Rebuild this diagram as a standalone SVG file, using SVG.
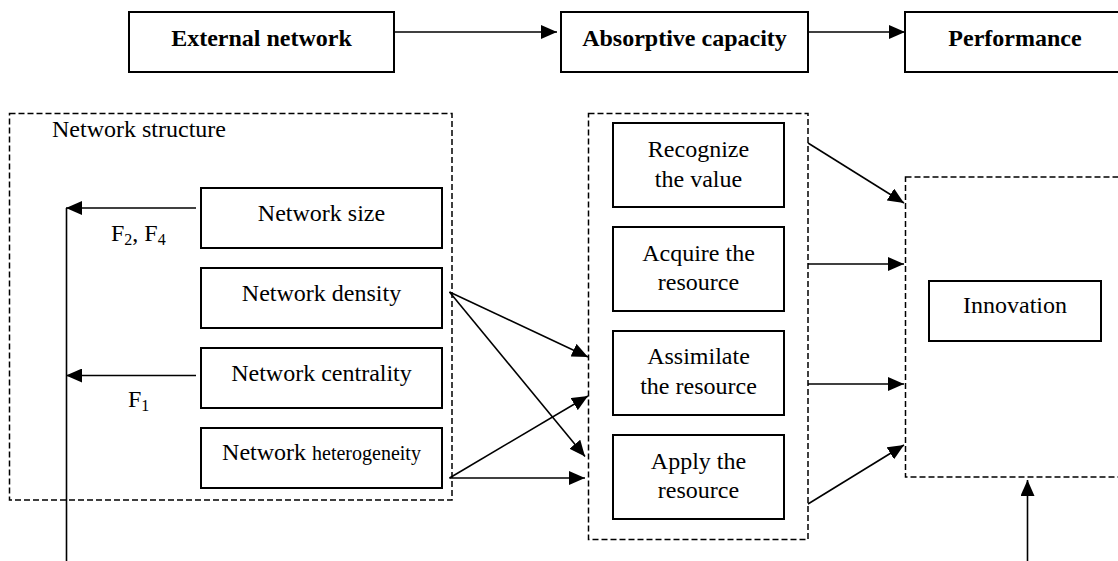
<svg xmlns="http://www.w3.org/2000/svg" width="1118" height="561" viewBox="0 0 1118 561">
<defs>
<marker id="ah" markerWidth="16" markerHeight="14" refX="16" refY="7" orient="auto" markerUnits="userSpaceOnUse">
<path d="M0,0 L16,7 L0,14 Z" fill="#000"/>
</marker>
<style>
.box{fill:#fff;stroke:#000;stroke-width:2}
.dash{fill:none;stroke:#000;stroke-width:1.5;stroke-dasharray:6 3}
.t{font-family:"Liberation Serif","Times New Roman",serif;font-size:24px;fill:#000}
.b{font-weight:bold}
.m{text-anchor:middle}
.c{fill:none;stroke:#000;stroke-width:1.6}
.a{marker-end:url(#ah)}
</style>
</defs>
<rect width="1118" height="561" fill="#fff"/>

<g id="external-network"><rect class="box" x="129" y="12" width="265" height="60"/><text class="t b m" x="261.5" y="46">External network</text></g>
<g id="absorptive-capacity"><rect class="box" x="561" y="12" width="247" height="60"/><text class="t b m" x="684.5" y="46">Absorptive capacity</text></g>
<g id="performance"><rect class="box" x="905" y="12" width="220" height="60"/><text class="t b m" x="1015" y="46">Performance</text></g>

<g id="network-structure"><rect class="dash" x="9.5" y="113.5" width="442.5" height="386.5"/><text class="t" x="52" y="137">Network structure</text></g>
<g id="network-size"><rect class="box" x="201" y="188" width="241" height="60"/><text class="t m" x="321.5" y="221">Network size</text></g>
<g id="network-density"><rect class="box" x="201" y="268" width="241" height="60"/><text class="t m" x="321.5" y="301">Network density</text></g>
<g id="network-centrality"><rect class="box" x="201" y="348" width="241" height="60"/><text class="t m" x="321.5" y="381">Network centrality</text></g>
<g id="network-heterogeneity"><rect class="box" x="201" y="428" width="241" height="60"/><text class="t m" x="321.5" y="460">Network <tspan font-size="20">heterogeneity</tspan></text></g>

<g id="absorptive-group"><rect class="dash" x="588.5" y="113.5" width="219.5" height="426"/></g>
<g id="recognize"><rect class="box" x="613" y="123" width="171" height="84"/><text class="t m" x="698.5" y="157">Recognize</text><text class="t m" x="698.5" y="187">the value</text></g>
<g id="acquire"><rect class="box" x="613" y="227" width="171" height="84"/><text class="t m" x="698.5" y="261">Acquire the</text><text class="t m" x="698.5" y="290">resource</text></g>
<g id="assimilate"><rect class="box" x="613" y="331" width="171" height="84"/><text class="t m" x="698.5" y="364">Assimilate</text><text class="t m" x="698.5" y="394">the resource</text></g>
<g id="apply"><rect class="box" x="613" y="435" width="171" height="84"/><text class="t m" x="698.5" y="469">Apply the</text><text class="t m" x="698.5" y="498">resource</text></g>

<g id="innovation-group"><rect class="dash" x="905.5" y="177" width="220" height="300"/></g>
<g id="innovation"><rect class="box" x="929" y="281" width="172" height="60"/><text class="t m" x="1015" y="313">Innovation</text></g>

<g id="connectors">
<line class="c a" x1="394" y1="32" x2="557" y2="32"/>
<line class="c a" x1="808" y1="32" x2="905" y2="32"/>
<line class="c" x1="66.5" y1="208" x2="66.5" y2="561"/>
<line class="c a" x1="196" y1="208" x2="66" y2="208"/>
<line class="c a" x1="196" y1="375.5" x2="66" y2="375.5"/>
<line class="c a" x1="449.5" y1="292" x2="588" y2="357"/>
<line class="c a" x1="449.5" y1="292" x2="585" y2="456.5"/>
<line class="c a" x1="449.5" y1="478" x2="588" y2="396"/>
<line class="c a" x1="449.5" y1="478" x2="585" y2="478"/>
<line class="c a" x1="808" y1="143" x2="904" y2="203"/>
<line class="c a" x1="808" y1="264" x2="904" y2="264"/>
<line class="c a" x1="808" y1="384" x2="904" y2="384"/>
<line class="c a" x1="808" y1="504" x2="904" y2="445"/>
<line class="c a" x1="1027.5" y1="561" x2="1027.5" y2="480"/>
</g>
<g id="labels">
<text class="t" x="111" y="241">F<tspan font-size="16" dy="4">2</tspan><tspan dy="-4">, F</tspan><tspan font-size="16" dy="4">4</tspan></text>
<text class="t" x="128" y="407">F<tspan font-size="16" dy="4">1</tspan></text>
</g>
</svg>
